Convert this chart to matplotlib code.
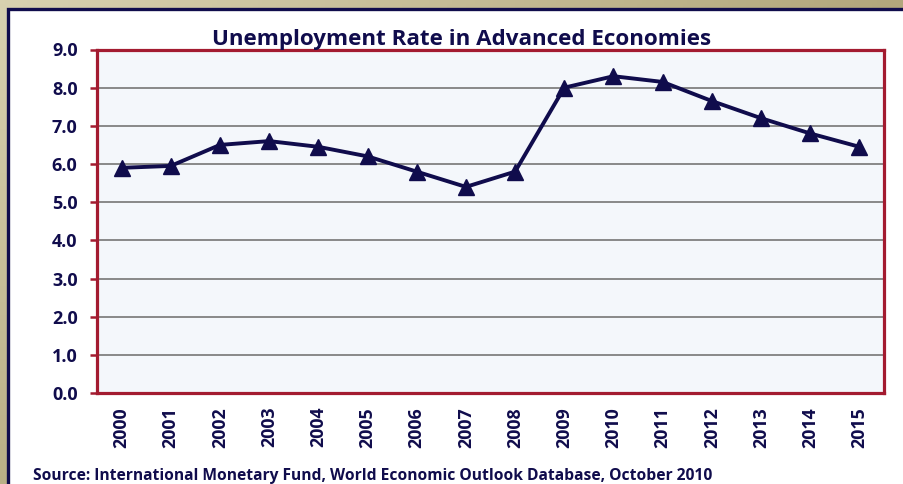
import numpy as np
import matplotlib
matplotlib.use("Agg")
import matplotlib.pyplot as plt
from matplotlib.patches import Rectangle
from matplotlib.colors import LinearSegmentedColormap

# Data
years = [str(y) for y in range(2000, 2016)]
rates = [5.9, 5.95, 6.5, 6.6, 6.45, 6.2, 5.8, 5.4, 5.8, 8.0, 8.3, 8.15, 7.65, 7.2, 6.8, 6.45]
y_ticks = [0, 1, 2, 3, 4, 5, 6, 7, 8, 9]
title = "Unemployment Rate in Advanced Economies"
source = "Source: International Monetary Fund, World Economic Outlook Database, October 2010"

NAVY = "#100c4c"
RED = "#a31b30"
W, H = 904, 484

plt.rcParams['font.family'] = ['Open Sans', 'DejaVu Sans']
plt.rcParams['font.weight'] = 'bold'

fig = plt.figure(figsize=(W / 100, H / 100), dpi=100)

# Beige slide background with a soft gradient
bg = fig.add_axes([0, 0, 1, 1], zorder=-10)
xx, yy = np.meshgrid(np.linspace(0, 1, 200), np.linspace(0, 1, 120))
t = np.clip(xx + 0.8 * yy, 0, 1)
cmap = LinearSegmentedColormap.from_list("beige", ["#d8d1b0", "#b2a77c"])
bg.imshow(t, cmap=cmap, aspect='auto', extent=[0, 1, 1, 0])
bg.set_xlim(0, 1)
bg.set_ylim(1, 0)
bg.axis('off')

# White panel with navy border (top-left corner at 8px, 9px)
fig.add_artist(Rectangle((8 / W, -1), 2, 2 - 9 / H, transform=fig.transFigure,
                         facecolor='white', edgecolor=NAVY, linewidth=2.4,
                         zorder=-5))

ax = fig.add_axes([97 / W, 1 - 393 / H, (884 - 97) / W, (393 - 49.5) / H])
ax.set_facecolor('#f4f7fb')

x = np.arange(len(years))
ax.plot(x, rates, color=NAVY, linewidth=2.8, marker='^', markersize=11.5,
        markerfacecolor=NAVY, markeredgecolor=NAVY, zorder=5)

ax.set_xlim(-0.5, len(years) - 0.5)
ax.set_ylim(0, 9)
ax.set_yticks(y_ticks)
ax.set_yticklabels([f"{v:.1f}" for v in y_ticks])
ax.set_xticks(x)
ax.set_xticklabels(years, rotation=90)

ax.yaxis.grid(True, color='#808080', linewidth=1.3)
ax.set_axisbelow(True)

for s in ax.spines.values():
    s.set_color(RED)
    s.set_linewidth(2.3)

ax.tick_params(axis='y', direction='out', length=5, width=1.8, color=RED,
               pad=9, labelsize=13, labelcolor=NAVY)
ax.tick_params(axis='x', length=0, pad=10, labelsize=12.8, labelcolor=NAVY)
for lbl in ax.get_xticklabels() + ax.get_yticklabels():
    lbl.set_fontweight('bold')

fig.text(462 / W, 1 - 45 / H, title, ha='center', va='baseline',
         fontsize=16.1, fontweight='bold', color=NAVY)
fig.text(33 / W, 1 - 480 / H, source, ha='left', va='baseline',
         fontsize=11.25, fontweight='bold', color=NAVY)

fig.savefig("out.png", dpi=100)
